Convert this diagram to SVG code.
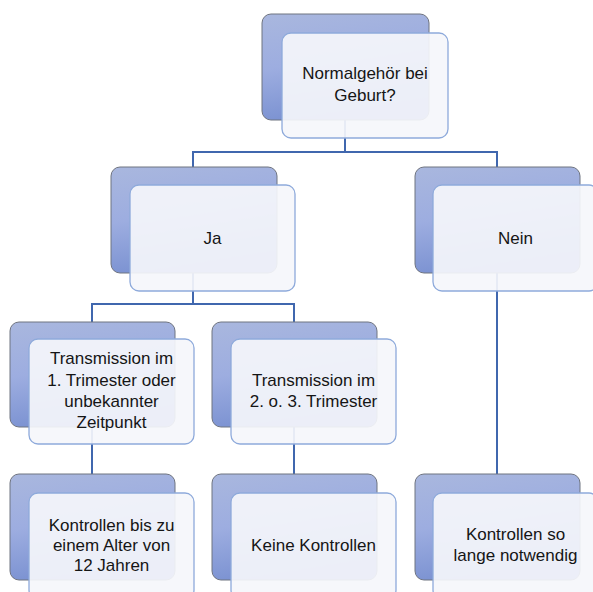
<svg xmlns="http://www.w3.org/2000/svg" width="593" height="592" viewBox="0 0 593 592">
<defs>
<linearGradient id="bg" x1="0" y1="0" x2="0.25" y2="1">
<stop offset="0" stop-color="#a9b7de"/>
<stop offset="0.5" stop-color="#9dade0"/>
<stop offset="1" stop-color="#7a91d1"/>
</linearGradient>
</defs>
<style>
.back{fill:url(#bg);stroke:#6f7480;stroke-width:1}
.front{fill:#f5f6fb;fill-opacity:0.92;stroke:#8eaadb;stroke-width:1.3}
.conn{fill:none;stroke:#4067ae;stroke-width:2}
text{font-family:"Liberation Sans",Arial,sans-serif;font-size:17px;fill:#151515;text-anchor:middle}
</style>
<rect width="593" height="592" fill="#ffffff"/>
<g id="connectors">
<path class="conn" d="M345 120 V152 M193 167 V152 H497 V167"/>
<path class="conn" d="M193 273 V304 M92 322 V304 H294 V322"/>
<path class="conn" d="M497 273 V474"/>
<path class="conn" d="M92 427 V474"/>
<path class="conn" d="M294 427 V474"/>
</g>
<g id="n_root">
<rect class="back" x="262" y="14" width="167" height="106" rx="9"/>
<rect class="front" x="282" y="33" width="166" height="105" rx="9"/>
<text x="365" y="79">Normalgehör bei</text>
<text x="365" y="101">Geburt?</text>
</g>
<g id="n_ja">
<rect class="back" x="111" y="167" width="166" height="106" rx="9"/>
<rect class="front" x="130" y="185" width="165" height="106" rx="9"/>
<text x="212.5" y="244">Ja</text>
</g>
<g id="n_nein">
<rect class="back" x="415" y="167" width="165" height="106" rx="9"/>
<rect class="front" x="433" y="185" width="165" height="106" rx="9"/>
<text x="515.5" y="244">Nein</text>
</g>
<g id="n_t1">
<rect class="back" x="10" y="322" width="165" height="105" rx="9"/>
<rect class="front" x="29" y="339" width="165" height="105" rx="9"/>
<text x="111.5" y="364">Transmission im</text>
<text x="111.5" y="385.5">1. Trimester oder</text>
<text x="111.5" y="406.5">unbekannter</text>
<text x="111.5" y="427.5">Zeitpunkt</text>
</g>
<g id="n_t2">
<rect class="back" x="212" y="322" width="165" height="105" rx="9"/>
<rect class="front" x="231" y="339" width="165" height="105" rx="9"/>
<text x="313.5" y="386">Transmission im</text>
<text x="313.5" y="407">2. o. 3. Trimester</text>
</g>
<g id="n_k1">
<rect class="back" x="10" y="474" width="165" height="106" rx="9"/>
<rect class="front" x="29" y="493" width="165" height="106" rx="9"/>
<text x="111.5" y="530.5">Kontrollen bis zu</text>
<text x="111.5" y="551">einem Alter von</text>
<text x="111.5" y="571">12 Jahren</text>
</g>
<g id="n_k2">
<rect class="back" x="212" y="474" width="165" height="106" rx="9"/>
<rect class="front" x="231" y="493" width="165" height="106" rx="9"/>
<text x="313.5" y="551">Keine Kontrollen</text>
</g>
<g id="n_k3">
<rect class="back" x="415" y="474" width="165" height="106" rx="9"/>
<rect class="front" x="433" y="493" width="165" height="106" rx="9"/>
<text x="515.5" y="540">Kontrollen so</text>
<text x="515.5" y="561">lange notwendig</text>
</g>
</svg>
